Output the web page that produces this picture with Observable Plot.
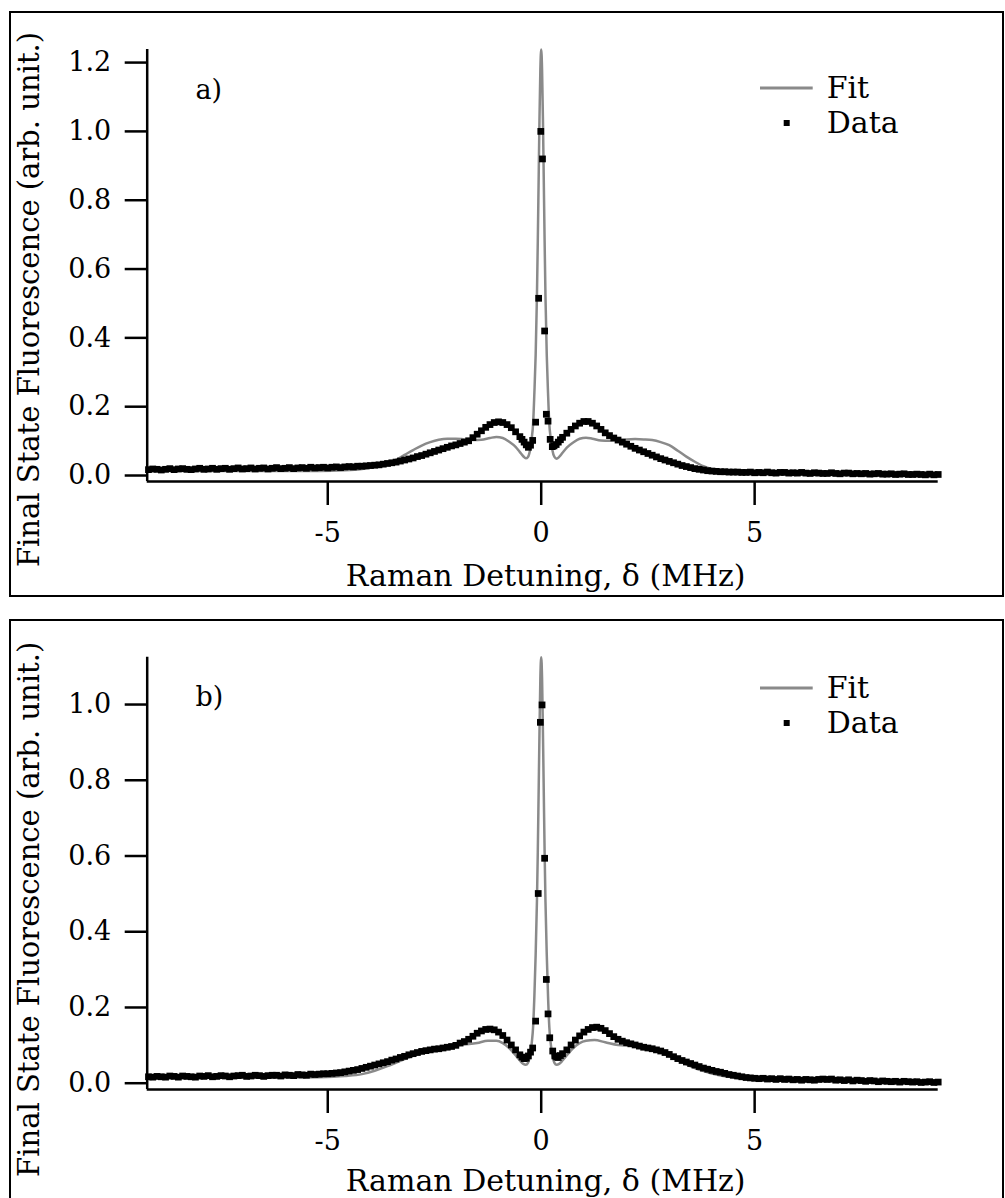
<!DOCTYPE html>
<html>
<head>
<meta charset="utf-8">
<script src="https://cdn.jsdelivr.net/npm/d3@7"></script>
<script src="https://cdn.jsdelivr.net/npm/@observablehq/plot@0.6"></script>
<style>
  html, body { margin: 0; padding: 0; background: #fff; }
  #page { position: relative; width: 1005px; height: 1198px; overflow: hidden; font-family: "DejaVu Serif", serif; }
  .panel { position: absolute; left: 0; width: 1005px; }
  .frame { position: absolute; border: 2.5px solid #000; box-sizing: border-box; pointer-events: none; }
</style>
</head>
<body>
<div id="page">
  <div class="panel" id="panelA" style="top:0px"></div>
  <div class="panel" id="panelB" style="top:600px"></div>
  <div class="frame" style="left:9px; top:11px; width:995px; height:586px"></div>
  <div class="frame" style="left:9px; top:619px; width:995px; height:600px"></div>
</div>
<script>
// Shared axis text and ticks
const xTitle = "Raman Detuning, δ (MHz)";
const yTitle = "Final State Fluorescence (arb. unit.)";
const xTicks = [-5, 0, 5];
const xDomain = [-9.23, 9.30];

// Panel a) measured spectrum
const aDetuning = [
  -9.2, -9.1, -9.0, -8.9, -8.8, -8.7, -8.6, -8.5, -8.4, -8.3,
  -8.2, -8.1, -8.0, -7.9, -7.8, -7.7, -7.6, -7.5, -7.4, -7.3,
  -7.2, -7.1, -7.0, -6.9, -6.8, -6.7, -6.6, -6.5, -6.4, -6.3,
  -6.2, -6.1, -6.0, -5.9, -5.8, -5.7, -5.6, -5.5, -5.4, -5.3,
  -5.2, -5.1, -5.0, -4.9, -4.8, -4.7, -4.6, -4.5, -4.4, -4.3,
  -4.2, -4.1, -4.0, -3.9, -3.8, -3.7, -3.6, -3.5, -3.4, -3.3,
  -3.2, -3.1, -3.0, -2.9, -2.8, -2.7, -2.6, -2.5, -2.4, -2.3,
  -2.2, -2.1, -2.0, -1.9, -1.8, -1.7, -1.6, -1.5, -1.4, -1.3,
  -1.2, -1.1, -1.0, -0.9, -0.8, -0.7, -0.6, -0.5, -0.45, -0.40,
  -0.35, -0.30, -0.25, -0.20, -0.13, -0.06, -0.01, 0.03, 0.08, 0.12,
  0.16, 0.21, 0.26, 0.30, 0.35, 0.40, 0.45, 0.5, 0.6, 0.7,
  0.8, 0.9, 1.0, 1.1, 1.2, 1.3, 1.4, 1.5, 1.6, 1.7,
  1.8, 1.9, 2.0, 2.1, 2.2, 2.3, 2.4, 2.5, 2.6, 2.7,
  2.8, 2.9, 3.0, 3.1, 3.2, 3.3, 3.4, 3.5, 3.6, 3.7,
  3.8, 3.9, 4.0, 4.1, 4.2, 4.3, 4.4, 4.5, 4.6, 4.7,
  4.8, 4.9, 5.0, 5.1, 5.2, 5.3, 5.4, 5.5, 5.6, 5.7,
  5.8, 5.9, 6.0, 6.1, 6.2, 6.3, 6.4, 6.5, 6.6, 6.7,
  6.8, 6.9, 7.0, 7.1, 7.2, 7.3, 7.4, 7.5, 7.6, 7.7,
  7.8, 7.9, 8.0, 8.1, 8.2, 8.3, 8.4, 8.5, 8.6, 8.7,
  8.8, 8.9, 9.0, 9.1, 9.2, 9.3
];
const aSignal = [
  0.017, 0.019, 0.018, 0.016, 0.018, 0.020, 0.017, 0.019, 0.020, 0.018,
  0.017, 0.019, 0.021, 0.018, 0.019, 0.021, 0.018, 0.020, 0.021, 0.018,
  0.020, 0.022, 0.019, 0.020, 0.022, 0.019, 0.021, 0.022, 0.019, 0.021,
  0.023, 0.020, 0.021, 0.023, 0.020, 0.022, 0.023, 0.021, 0.024, 0.022,
  0.023, 0.024, 0.022, 0.024, 0.025, 0.023, 0.025, 0.026, 0.025, 0.027,
  0.027, 0.028, 0.029, 0.030, 0.031, 0.033, 0.035, 0.037, 0.039, 0.042,
  0.045, 0.048, 0.051, 0.055, 0.058, 0.062, 0.066, 0.070, 0.074, 0.078,
  0.082, 0.086, 0.089, 0.093, 0.097, 0.101, 0.110, 0.120, 0.130, 0.140,
  0.148, 0.154, 0.156, 0.154, 0.148, 0.139, 0.127, 0.113, 0.105, 0.097,
  0.089, 0.082, 0.088, 0.102, 0.155, 0.515, 1.000, 0.920, 0.420, 0.178,
  0.158, 0.105, 0.084, 0.086, 0.090, 0.097, 0.104, 0.111, 0.123, 0.134,
  0.144, 0.152, 0.157, 0.157, 0.152, 0.144, 0.134, 0.124, 0.116, 0.109,
  0.103, 0.097, 0.091, 0.085, 0.079, 0.074, 0.069, 0.064, 0.059, 0.054,
  0.049, 0.045, 0.041, 0.037, 0.033, 0.029, 0.026, 0.023, 0.020, 0.018,
  0.016, 0.014, 0.013, 0.012, 0.011, 0.011, 0.010, 0.010, 0.010, 0.009,
  0.009, 0.010, 0.008, 0.009, 0.008, 0.010, 0.008, 0.007, 0.009, 0.009,
  0.007, 0.008, 0.007, 0.009, 0.007, 0.006, 0.008, 0.007, 0.006, 0.006,
  0.008, 0.006, 0.005, 0.007, 0.007, 0.005, 0.006, 0.005, 0.006, 0.004,
  0.005, 0.006, 0.004, 0.004, 0.005, 0.003, 0.004, 0.005, 0.003, 0.003,
  0.004, 0.003, 0.002, 0.004, 0.002, 0.003
];
// Panel a) fitted line shape
const aFitDetuning = [
  -9.23, -8, -7, -6, -5.2, -4.6, -4.2, -3.9, -3.6, -3.4,
  -3.2, -3.0, -2.8, -2.6, -2.4, -2.2, -2.0, -1.8, -1.6, -1.4,
  -1.2, -1.05, -0.9, -0.75, -0.6, -0.5, -0.42, -0.36, -0.31, -0.26,
  -0.22, -0.19, -0.16, -0.13, -0.10, -0.08, -0.06, -0.04, -0.02, 0,
  0.02, 0.04, 0.06, 0.08, 0.10, 0.13, 0.16, 0.19, 0.22, 0.26,
  0.31, 0.36, 0.42, 0.5, 0.6, 0.75, 0.9, 1.05, 1.2, 1.4,
  1.6, 1.8, 2.0, 2.2, 2.4, 2.6, 2.8, 3.0, 3.2, 3.4,
  3.6, 3.8, 4.0, 4.3, 4.7, 5.5, 6.5, 8, 9.3
];
const aFitSignal = [
  0.013, 0.013, 0.013, 0.013, 0.013, 0.015, 0.019, 0.025, 0.035, 0.046,
  0.060, 0.074, 0.087, 0.097, 0.104, 0.107, 0.107, 0.105, 0.103, 0.104,
  0.109, 0.112, 0.109, 0.098, 0.083, 0.068, 0.056, 0.050, 0.054, 0.075,
  0.110, 0.150, 0.24, 0.35, 0.52, 0.68, 0.86, 1.04, 1.18, 1.238,
  1.18, 1.04, 0.86, 0.68, 0.52, 0.35, 0.24, 0.150, 0.110, 0.075,
  0.054, 0.049, 0.054, 0.066, 0.081, 0.096, 0.107, 0.110, 0.107, 0.102,
  0.101, 0.103, 0.105, 0.106, 0.105, 0.103, 0.097, 0.088, 0.072, 0.055,
  0.040, 0.027, 0.018, 0.010, 0.007, 0.005, 0.004, 0.003, 0.002
];
const aYDomain = [-0.0174, 1.238];
const aYTicks = [0, 0.2, 0.4, 0.6, 0.8, 1.0, 1.2];

// Panel b) measured spectrum
const bDetuning = [
  -9.2, -9.1, -9.0, -8.9, -8.8, -8.7, -8.6, -8.5, -8.4, -8.3,
  -8.2, -8.1, -8.0, -7.9, -7.8, -7.7, -7.6, -7.5, -7.4, -7.3,
  -7.2, -7.1, -7.0, -6.9, -6.8, -6.7, -6.6, -6.5, -6.4, -6.3,
  -6.2, -6.1, -6.0, -5.9, -5.8, -5.7, -5.6, -5.5, -5.4, -5.3,
  -5.2, -5.1, -5.0, -4.9, -4.8, -4.7, -4.6, -4.5, -4.4, -4.3,
  -4.2, -4.1, -4.0, -3.9, -3.8, -3.7, -3.6, -3.5, -3.4, -3.3,
  -3.2, -3.1, -3.0, -2.9, -2.8, -2.7, -2.6, -2.5, -2.4, -2.3,
  -2.2, -2.1, -2.0, -1.9, -1.8, -1.7, -1.6, -1.5, -1.4, -1.3,
  -1.2, -1.1, -1.0, -0.9, -0.8, -0.7, -0.6, -0.5, -0.45, -0.40,
  -0.35, -0.30, -0.25, -0.20, -0.13, -0.07, -0.02, 0.02, 0.08, 0.12,
  0.16, 0.20, 0.27, 0.32, 0.36, 0.40, 0.45, 0.5, 0.6, 0.7,
  0.8, 0.9, 1.0, 1.1, 1.2, 1.3, 1.4, 1.5, 1.6, 1.7,
  1.8, 1.9, 2.0, 2.1, 2.2, 2.3, 2.4, 2.5, 2.6, 2.7,
  2.8, 2.9, 3.0, 3.1, 3.2, 3.3, 3.4, 3.5, 3.6, 3.7,
  3.8, 3.9, 4.0, 4.1, 4.2, 4.3, 4.4, 4.5, 4.6, 4.7,
  4.8, 4.9, 5.0, 5.1, 5.2, 5.3, 5.4, 5.5, 5.6, 5.7,
  5.8, 5.9, 6.0, 6.1, 6.2, 6.3, 6.4, 6.5, 6.6, 6.7,
  6.8, 6.9, 7.0, 7.1, 7.2, 7.3, 7.4, 7.5, 7.6, 7.7,
  7.8, 7.9, 8.0, 8.1, 8.2, 8.3, 8.4, 8.5, 8.6, 8.7,
  8.8, 8.9, 9.0, 9.1, 9.2, 9.3
];
const bSignal = [
  0.017, 0.016, 0.018, 0.017, 0.016, 0.019, 0.018, 0.016, 0.019, 0.018,
  0.017, 0.016, 0.019, 0.018, 0.020, 0.017, 0.018, 0.020, 0.019, 0.017,
  0.019, 0.020, 0.021, 0.018, 0.019, 0.021, 0.020, 0.018, 0.020, 0.021,
  0.021, 0.019, 0.022, 0.021, 0.020, 0.023, 0.022, 0.021, 0.024, 0.023,
  0.024, 0.025, 0.025, 0.026, 0.027, 0.028, 0.030, 0.032, 0.034, 0.036,
  0.039, 0.042, 0.045, 0.048, 0.051, 0.054, 0.057, 0.061, 0.064, 0.068,
  0.071, 0.075, 0.078, 0.081, 0.084, 0.086, 0.088, 0.090, 0.091, 0.093,
  0.095, 0.097, 0.100, 0.106, 0.110, 0.116, 0.124, 0.132, 0.138, 0.142,
  0.143, 0.141, 0.135, 0.126, 0.114, 0.101, 0.088, 0.075, 0.069, 0.065,
  0.066, 0.072, 0.082, 0.093, 0.164, 0.501, 0.953, 0.999, 0.594, 0.274,
  0.183, 0.120, 0.085, 0.072, 0.069, 0.068, 0.073, 0.078, 0.088, 0.101,
  0.114, 0.125, 0.135, 0.142, 0.147, 0.148, 0.145, 0.139, 0.131, 0.123,
  0.116, 0.111, 0.107, 0.104, 0.101, 0.098, 0.095, 0.093, 0.091, 0.088,
  0.085, 0.081, 0.076, 0.070, 0.065, 0.060, 0.056, 0.052, 0.048, 0.044,
  0.040, 0.037, 0.034, 0.031, 0.029, 0.026, 0.023, 0.021, 0.019, 0.017,
  0.015, 0.014, 0.013, 0.012, 0.013, 0.011, 0.012, 0.010, 0.012, 0.010,
  0.011, 0.009, 0.010, 0.008, 0.010, 0.009, 0.008, 0.010, 0.011, 0.010,
  0.011, 0.008, 0.009, 0.007, 0.009, 0.006, 0.008, 0.007, 0.005, 0.007,
  0.006, 0.004, 0.006, 0.005, 0.004, 0.005, 0.003, 0.005, 0.004, 0.003,
  0.004, 0.002, 0.003, 0.004, 0.002, 0.003
];
// Panel b) fitted line shape
const bFitDetuning = [
  -9.23, -8, -7, -6, -5.2, -4.6, -4.2, -3.9, -3.6, -3.3,
  -3.0, -2.7, -2.4, -2.1, -1.8, -1.5, -1.25, -1.05, -0.9, -0.75,
  -0.6, -0.5, -0.42, -0.36, -0.31, -0.26, -0.22, -0.19, -0.16, -0.13,
  -0.10, -0.08, -0.06, -0.04, -0.02, 0, 0.02, 0.04, 0.06, 0.08,
  0.10, 0.13, 0.16, 0.19, 0.22, 0.26, 0.31, 0.36, 0.42, 0.5,
  0.6, 0.75, 0.9, 1.05, 1.25, 1.5, 1.8, 2.1, 2.4, 2.7,
  3.0, 3.3, 3.6, 3.9, 4.2, 4.6, 5.2, 6, 7, 8,
  9.3
];
const bFitSignal = [
  0.015, 0.015, 0.015, 0.015, 0.016, 0.019, 0.024, 0.033, 0.045, 0.059,
  0.072, 0.084, 0.094, 0.100, 0.102, 0.106, 0.112, 0.112, 0.106, 0.093,
  0.074, 0.060, 0.051, 0.049, 0.054, 0.075, 0.108, 0.148, 0.23, 0.34,
  0.48, 0.61, 0.77, 0.93, 1.07, 1.125, 1.07, 0.93, 0.77, 0.61,
  0.48, 0.34, 0.23, 0.148, 0.108, 0.075, 0.054, 0.049, 0.051, 0.060,
  0.074, 0.093, 0.106, 0.112, 0.114, 0.108, 0.101, 0.099, 0.096, 0.086,
  0.072, 0.055, 0.040, 0.029, 0.020, 0.014, 0.010, 0.007, 0.005, 0.004,
  0.003
];
const bYDomain = [-0.0166, 1.125];
const bYTicks = [0, 0.2, 0.4, 0.6, 0.8, 1.0];

const FIT_GRAY = "#8a8a8a";
const FONT = "'DejaVu Serif', serif";

function drawPanel(cfg) {
  const points = cfg.detuning.map((x, i) => ({x, y: cfg.signal[i]}));
  const fit = cfg.fitDetuning.map((x, i) => ({x, y: cfg.fitSignal[i]}));
  const svg = Plot.plot({
    width: 1005,
    height: cfg.height,
    marginLeft: 146.7,
    marginRight: 67.3,
    marginTop: cfg.marginTop,
    marginBottom: cfg.marginBottom,
    style: {background: "transparent", fontFamily: FONT, fontSize: "26px", color: "#000", overflow: "visible"},
    x: {domain: xDomain},
    y: {domain: cfg.yDomain},
    marks: [
      Plot.line(fit, {x: "x", y: "y", stroke: FIT_GRAY, strokeWidth: 2.5, curve: "monotone-x"}),
      Plot.dot(points, {x: "x", y: "y", symbol: "square", r: 3.8, fill: "#000"}),
      Plot.ruleX([xDomain[0]], {stroke: "#000", strokeWidth: 2.5}),
      Plot.ruleY([cfg.yDomain[0]], {stroke: "#000", strokeWidth: 2.5}),
      Plot.axisX({ticks: xTicks, tickFormat: d => String(d), tickSize: 24, tickPadding: 17, strokeWidth: 2.5, fontSize: 27, label: null}),
      Plot.axisY({ticks: cfg.yTicks, tickFormat: d => d.toFixed(1), tickSize: 22, tickPadding: 14, strokeWidth: 2.5, fontSize: 27, label: null}),
      Plot.text([xTitle], {text: d => d, frameAnchor: "bottom", dx: 3, dy: cfg.titleDy, lineAnchor: "bottom", fontSize: 30}),
      Plot.text([yTitle], {text: d => d, frameAnchor: "left", rotate: -90, dx: -128.7, dy: cfg.labelDy, lineAnchor: "top", textAnchor: "middle", fontSize: 29}),
      Plot.text([cfg.letter], {text: d => d, frameAnchor: "top-left", dx: 48.3, dy: cfg.letterDy, textAnchor: "start", lineAnchor: "bottom", fontSize: 27})
    ]
  });

  // Legend: fit line sample and data marker
  const g = d3.select(svg).append("g")
    .attr("font-size", 30).attr("font-family", FONT).attr("text-anchor", "start").attr("fill", "#000");
  g.append("line").attr("x1", 760).attr("x2", 812.7).attr("y1", cfg.legendY).attr("y2", cfg.legendY)
    .attr("stroke", FIT_GRAY).attr("stroke-width", 3);
  g.append("text").attr("x", 826.7).attr("y", cfg.legendY + 10).text("Fit");
  g.append("rect").attr("x", 783.7).attr("y", cfg.legendY + 32).attr("width", 6).attr("height", 6);
  g.append("text").attr("x", 826.7).attr("y", cfg.legendY + 45).text("Data");

  document.getElementById(cfg.target).appendChild(svg);
}

drawPanel({
  target: "panelA", detuning: aDetuning, signal: aSignal,
  fitDetuning: aFitDetuning, fitSignal: aFitSignal,
  yDomain: aYDomain, yTicks: aYTicks,
  height: 600, marginTop: 49, marginBottom: 119,
  letter: "a)", letterDy: 49, labelDy: 34, legendY: 88, titleDy: 104
});
drawPanel({
  target: "panelB", detuning: bDetuning, signal: bSignal,
  fitDetuning: bFitDetuning, fitSignal: bFitSignal,
  yDomain: bYDomain, yTicks: bYTicks,
  height: 598, marginTop: 56.7, marginBottom: 109,
  letter: "b)", letterDy: 48.3, labelDy: 36, legendY: 88, titleDy: 101
});
</script>
</body>
</html>
